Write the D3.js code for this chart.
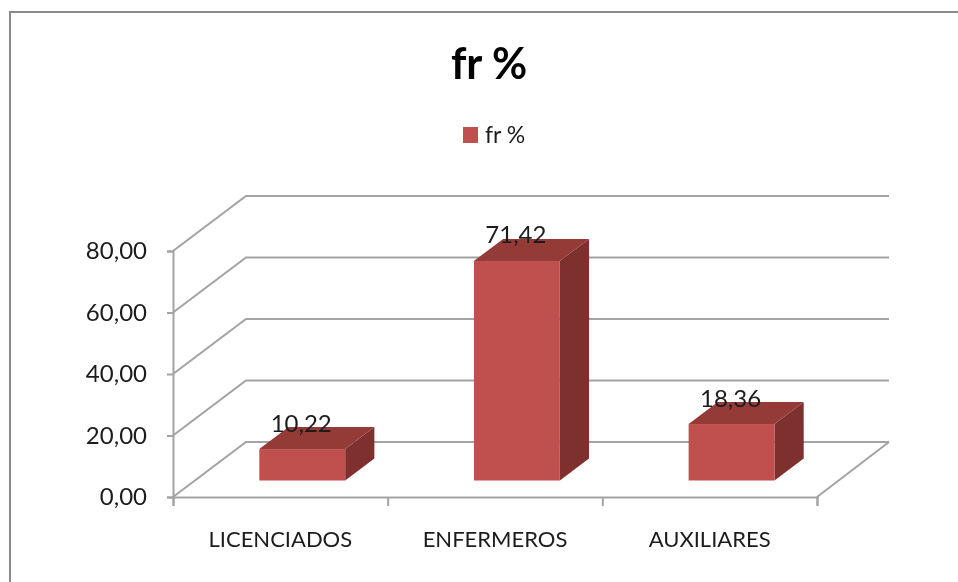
<!DOCTYPE html>
<html>
<head>
<meta charset="utf-8">
<script src="https://cdn.jsdelivr.net/npm/d3@7"></script>
<style>
html,body{margin:0;padding:0;background:#fff}
svg{display:block;filter:blur(0.45px)}
text{font-family:Lato,"Open Sans",sans-serif;fill:#1c1c1c}
</style>
</head>
<body>
<svg id="c" width="958" height="582"></svg>
<script>
const categories = ["LICENCIADOS", "ENFERMEROS", "AUXILIARES"];
const seriesName = "fr %";
const values = [10.22, 71.42, 18.36];
const yTicks = [0, 20, 40, 60, 80];

const svg = d3.select("#c");
const frontLeft = 173, frontRight = 817, frontBase = 497, frontTop = 251;
const depthX = 73, depthY = 55;
const barNear = 0.3, barDepth = 0.4;
const grid = "#a3a3a3", front = "#c0504d", topFace = "#943b38", sideFace = "#7d302e";
const fmt = d => d3.format(".2f")(d).replace(".", ",");

const x = d3.scaleBand().domain(categories).range([frontLeft, frontRight]).paddingInner(0.6).paddingOuter(0.3);
const xPos = d3.scaleBand().domain(categories).range([frontLeft, frontRight]);
const y = d3.scaleLinear().domain([0, 80]).range([frontBase, frontTop]);

// chart frame
svg.append("path").attr("d", "M958,12H10V582").attr("fill", "none").attr("stroke", "#8a8a8a").attr("stroke-width", 2);

// title + legend
svg.append("text").attr("x", 489).attr("y", 79).attr("text-anchor", "middle")
  .style("font-size", "43px").style("font-weight", 700).style("fill", "#000").text(seriesName);
svg.append("rect").attr("x", 463).attr("y", 127).attr("width", 15).attr("height", 16).attr("fill", front);
svg.append("text").attr("x", 485).attr("y", 143).style("font-size", "23px").text(seriesName);

// walls: back gridlines, side diagonals
const gridG = svg.append("g").attr("fill", "none").attr("stroke", grid).attr("stroke-width", 2);
gridG.selectAll("path.w").data(yTicks).join("path").attr("class", "w")
  .attr("d", d => `M${frontLeft},${y(d)}L${frontLeft + depthX},${y(d) - depthY}H${frontRight + depthX - 1}`);
gridG.append("path").attr("d", `M${frontRight},${frontBase}L${frontRight + depthX - 1},${frontBase - depthY}`);

// axes
const yAxis = svg.append("g").attr("transform", `translate(${frontLeft},0)`)
  .call(d3.axisLeft(y).tickValues(yTicks).tickFormat(fmt).tickSize(6).tickPadding(20));
const edges = d3.scaleLinear().domain([0, categories.length]).range([frontLeft, frontRight]);
const xTicks = svg.append("g").attr("transform", `translate(0,${frontBase})`)
  .call(d3.axisBottom(edges).tickValues(d3.range(categories.length + 1)).tickFormat("").tickSize(9));
const xLabels = svg.append("g").attr("transform", `translate(0,${frontBase})`)
  .call(d3.axisBottom(xPos).tickSize(0).tickPadding(34));
[yAxis, xTicks, xLabels].forEach(a => {
  a.selectAll(".domain,line").attr("stroke", grid).attr("stroke-width", 2);
  a.attr("font-family", null).attr("font-size", null);
});
yAxis.selectAll("text").style("font-size", "24px");
xLabels.select(".domain").remove();
xLabels.selectAll("text").style("font-size", "22px").attr("dy", "0.71em");

// bars
const shiftX = barNear * depthX, shiftY = barNear * depthY;
const dX = barDepth * depthX, dY = barDepth * depthY;
const bars = svg.selectAll("g.bar").data(categories.map((c, i) => ({c, v: values[i]}))).join("g").attr("class", "bar");
bars.append("path").attr("fill", sideFace).attr("d", d => {
  const r = x(d.c) + x.bandwidth() + shiftX, b = frontBase - shiftY, t = y(d.v) - shiftY;
  return `M${r},${b}V${t}L${r + dX},${t - dY}V${b - dY}Z`;
});
bars.append("path").attr("fill", topFace).attr("d", d => {
  const l = x(d.c) + shiftX, t = y(d.v) - shiftY;
  return `M${l},${t}L${l + dX},${t - dY}H${l + x.bandwidth() + dX}L${l + x.bandwidth()},${t}Z`;
});
bars.append("rect").attr("fill", front)
  .attr("x", d => x(d.c) + shiftX).attr("y", d => y(d.v) - shiftY)
  .attr("width", x.bandwidth()).attr("height", d => y(0) - y(d.v));
bars.append("text").attr("text-anchor", "middle").style("font-size", "24px")
  .attr("x", d => x(d.c) + x.bandwidth() / 2 + shiftX - 1)
  .attr("y", d => y(d.v) - shiftY - 17.5)
  .text(d => fmt(d.v));
</script>
</body>
</html>
